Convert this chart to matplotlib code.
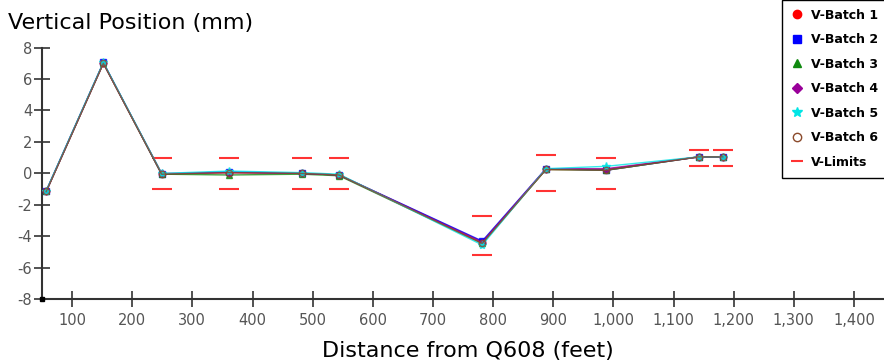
import matplotlib.pyplot as plt
from matplotlib.ticker import FuncFormatter
from matplotlib.lines import Line2D

# distance from Q608 (feet)
dist = [57, 152, 249, 361, 482, 544, 782, 888, 988, 1142, 1182]

batch1 = [-1.15, 7.00, -0.05, 0.05, 0.00, -0.10, -4.35, 0.25, 0.25, 1.05, 1.05]
batch2 = [-1.10, 7.05, -0.05, 0.10, 0.00, -0.10, -4.30, 0.30, 0.20, 1.05, 1.05]
batch3 = [-1.15, 7.00, -0.05, -0.10, -0.05, -0.15, -4.45, 0.25, 0.20, 1.05, 1.05]
batch4 = [-1.15, 7.00, 0.00, 0.05, 0.00, -0.10, -4.40, 0.30, 0.30, 1.05, 1.05]
batch5 = [-1.10, 7.05, 0.00, 0.15, 0.05, -0.05, -4.55, 0.30, 0.45, 1.05, 1.05]
batch6 = [-1.15, 7.00, -0.05, 0.05, 0.00, -0.10, -4.45, 0.25, 0.20, 1.05, 1.05]

lim_dist = [249, 361, 482, 544, 782, 888, 988, 1142, 1182]
lim_upper = [1.0, 1.0, 1.0, 1.0, -2.7, 1.2, 1.0, 1.5, 1.5]
lim_lower = [-1.0, -1.0, -1.0, -1.0, -5.2, -1.1, -1.0, 0.5, 0.5]

series = [
    ("V-Batch 1", batch1, "#ff0000", "o", "#ff0000"),
    ("V-Batch 2", batch2, "#0000ff", "s", "#0000ff"),
    ("V-Batch 3", batch3, "#108a10", "^", "#108a10"),
    ("V-Batch 4", batch4, "#990099", "D", "#990099"),
    ("V-Batch 5", batch5, "#00e5e5", "*", "#00e5e5"),
    ("V-Batch 6", batch6, "#8b4a2b", "o", "none"),
]

fig = plt.figure(figsize=(8.84, 3.62), dpi=100)
ax = fig.add_axes([42 / 884, 1 - 299.3 / 362, 1 - 42 / 884, (299.3 - 47.5) / 362])

handles = []
for name, vals, col, mk, fc in series:
    ms = 4.5
    if mk == "D":
        ms = 3.5
    if mk == "*":
        ms = 6
    ax.plot(dist, vals, color=col, lw=1.0, marker=mk, ms=ms, mfc=fc, mec=col, alpha=0.8, zorder=3)
    handles.append(Line2D([], [], ls="none", marker=mk, ms=ms + 1.5, color=col, mfc=fc, mec=col))

ax.plot(lim_dist, lim_upper, ls="none", marker="_", ms=15, mew=1.5, color="#ff3333", zorder=2)
ax.plot(lim_dist, lim_lower, ls="none", marker="_", ms=15, mew=1.5, color="#ff3333", zorder=2)
handles.append(Line2D([], [], ls="none", marker="_", ms=9, mew=1.5, color="#ff3333"))

ax.set_xlim(50, 1450)
ax.set_ylim(-8, 8)
ax.set_xticks(range(100, 1401, 100))
ax.set_yticks(range(-8, 9, 2))
ax.xaxis.set_major_formatter(FuncFormatter(lambda v, p: f"{v:,.0f}"))
ax.yaxis.set_major_formatter(FuncFormatter(lambda v, p: f"{v:.0f}"))
ax.tick_params(direction="inout", length=12, width=1.2, color="#333333",
               labelcolor="#555555", labelsize=10.5)
ax.tick_params(axis="x", pad=4)
ax.tick_params(axis="y", pad=1)
for s in ["top", "right"]:
    ax.spines[s].set_visible(False)
for s in ["left", "bottom"]:
    ax.spines[s].set_color("#333333")
    ax.spines[s].set_linewidth(1.5)
ax.plot([50], [-8], marker="s", ms=3, color="black", clip_on=False, zorder=5)

fig.text(8 / 884, 1 - 29 / 362, "Vertical Position (mm)", fontsize=16, va="baseline", ha="left")
fig.text(468 / 884, 1 - 356.7 / 362, "Distance from Q608 (feet)", fontsize=16, va="baseline", ha="center")

labels = [s[0] for s in series] + ["V-Limits"]
leg = fig.legend(handles, labels, loc="upper left", bbox_to_anchor=(782 / 884, 1.0),
                 prop={"weight": "bold", "size": 9}, labelspacing=0.92, handlelength=1.0,
                 handletextpad=0.6, borderpad=0.7, borderaxespad=0, fancybox=False, framealpha=1)
leg.get_frame().set_edgecolor("black")
leg.get_frame().set_linewidth(1.0)

fig.savefig("out.png", dpi=100)
